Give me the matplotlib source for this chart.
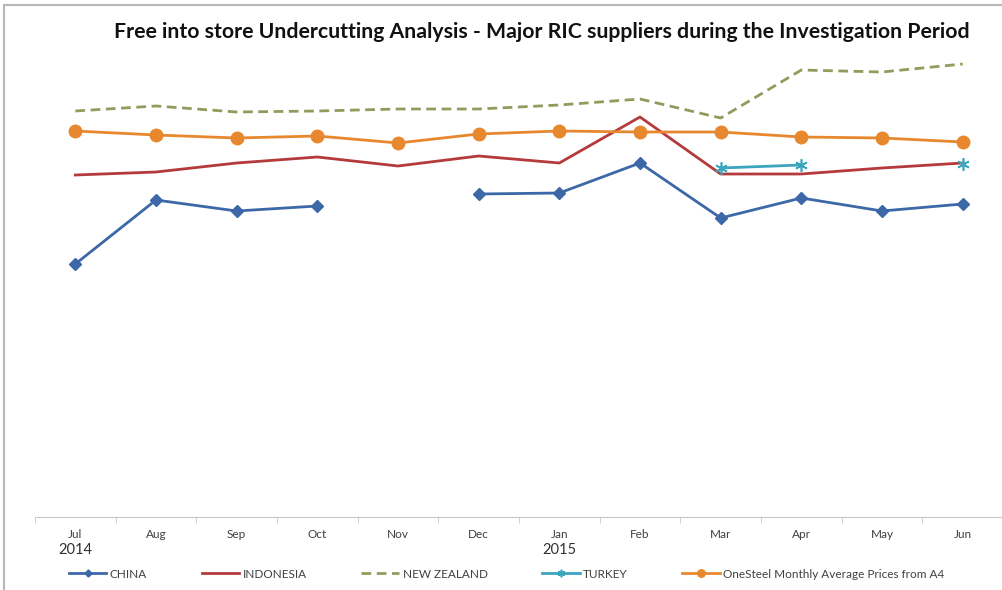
import numpy as np
import matplotlib
matplotlib.use("Agg")
import matplotlib.pyplot as plt
from matplotlib.patches import Rectangle

plt.rcParams["font.family"] = ["Lato", "DejaVu Sans"]

months = ["Jul", "Aug", "Sep", "Oct", "Nov", "Dec", "Jan", "Feb", "Mar", "Apr", "May", "Jun"]
years = {0: "2014", 6: "2015"}

nan = np.nan
china = [253, 317, 306, 311, nan, 323, 324, 354, 299, 319, 306, 313]
indonesia = [342, 345, 354, 360, 351, 361, 354, 400, 343, 343, 349, 354]
new_zealand = [406, 411, 405, 406, 408, 408, 412, 418, 399, 447, 445, 453]
turkey = [nan, nan, nan, nan, nan, nan, nan, nan, 349, 352, nan, 353]
onesteel = [386, 382, 379, 381, 374, 383, 386, 385, 385, 380, 379, 375]

W, H = 1003, 590
fig = plt.figure(figsize=(W / 100, H / 100), dpi=100)
ax = fig.add_axes([35 / W, (H - 517) / H, (1003 - 35) / W, (517 - 45) / H])

x = np.arange(len(months))
ax.plot(x, china, color="#3c68a8", lw=2, marker="D", ms=6, label="CHINA")
ax.plot(x, indonesia, color="#b53a3c", lw=2, label="INDONESIA")
ax.plot(x, new_zealand, color="#8d9e5c", lw=2, ls=(0, (3.5, 2)), label="NEW ZEALAND")
ax.plot(x, turkey, color="#3aa6be", lw=2, marker=(6, 2, 0), ms=9, mew=1.2, label="TURKEY")
ax.plot(x, onesteel, color="#e8882e", lw=2, marker="o", ms=9, label="OneSteel Monthly Average Prices from A4")

ax.set_xlim(-0.5, len(months) - 0.5)
ax.set_ylim(0, 472)
ax.set_yticks([])
for s in ("top", "right", "left"):
    ax.spines[s].set_visible(False)
ax.spines["bottom"].set_color("#c8c8c8")
ax.set_xticks(x)
ax.set_xticklabels(months, fontsize=8.5, color="#404040")
ax.tick_params(axis="x", which="major", length=0, pad=9)
ax.set_xticks(np.arange(-0.5, len(months)), minor=True)
ax.tick_params(axis="x", which="minor", length=4, color="#c8c8c8")

for i, yr in years.items():
    ax.text(i, -33, yr, ha="center", va="center", fontsize=10.5, color="#303030")

fig.suptitle("Free into store Undercutting Analysis - Major RIC suppliers during the Investigation Period",
             x=0.54, y=0.962, fontsize=15.3, fontweight="bold", color="#111111")

fig.legend(loc="center left", bbox_to_anchor=(58 / W, (H - 574) / H), ncol=5, frameon=False,
           fontsize=8.5, labelcolor="#404040", handlelength=3.2, handletextpad=0.3,
           columnspacing=4.6, markerscale=0.6)

fig.add_artist(Rectangle((4 / W, -0.1), 1.2, (H - 5) / H + 0.1, transform=fig.transFigure,
                         fill=False, ec="#b8b8b8", lw=1.5))

fig.savefig("out.png", dpi=100)
